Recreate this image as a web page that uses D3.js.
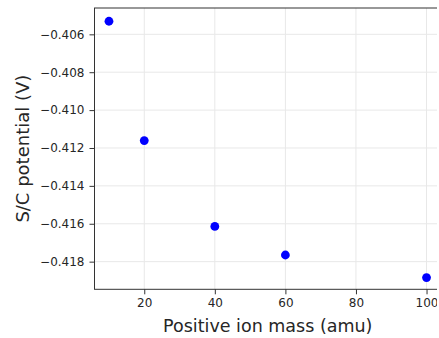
<!DOCTYPE html>
<html>
<head>
<meta charset="utf-8">
<script src="https://cdn.jsdelivr.net/npm/d3@7"></script>
<style>
  body { margin: 0; background: #fff; }
  text { font-family: "DejaVu Sans", sans-serif; }
</style>
</head>
<body>
<div id="chart"></div>
<script>
// ion mass (amu) vs spacecraft potential (V)
var mass = [10, 20, 40, 60, 100];
var potential = [-0.40531, -0.41161, -0.41614, -0.41765, -0.41884];
var xTicks = [20, 40, 60, 80, 100];
var yTicks = [-0.406, -0.408, -0.410, -0.412, -0.414, -0.416, -0.418];

// the original figure is cropped just before its right spine
var W = 437, H = 338;
var plotLeft = 94.5, plotRight = 441, plotTop = 8, plotBottom = 289.3;

var svg = d3.select("#chart")
  .append("svg")
    .attr("width", W)
    .attr("height", H);

var x = d3.scaleLinear()
  .domain([5.9, 104.1])
  .range([plotLeft, plotRight]);

var y = d3.scaleLinear()
  .domain([-0.41946, -0.40461])
  .range([plotBottom, plotTop]);

// grid
svg.append("g")
  .selectAll("line")
  .data(xTicks)
  .enter().append("line")
    .attr("x1", d => x(d)).attr("x2", d => x(d))
    .attr("y1", plotTop).attr("y2", plotBottom)
    .attr("stroke", "#e8e8e8")
    .attr("stroke-width", 1);
svg.append("g")
  .selectAll("line")
  .data(yTicks)
  .enter().append("line")
    .attr("x1", plotLeft).attr("x2", plotRight)
    .attr("y1", d => y(d)).attr("y2", d => y(d))
    .attr("stroke", "#e8e8e8")
    .attr("stroke-width", 1);

// axes
var xAxis = svg.append("g")
  .attr("transform", "translate(0," + plotBottom + ")")
  .call(d3.axisBottom(x).tickValues(xTicks).tickSize(5).tickSizeOuter(0).tickPadding(4));
var yAxis = svg.append("g")
  .attr("transform", "translate(" + plotLeft + ",0)")
  .call(d3.axisLeft(y).tickValues(yTicks).tickFormat(d3.format(".3f")).tickSize(5).tickSizeOuter(0).tickPadding(5));

[xAxis, yAxis].forEach(function(g) {
  g.select(".domain").remove();
  g.selectAll("line").attr("stroke", "#333");
  g.selectAll("text")
    .attr("fill", "#262626")
    .style("font-family", "DejaVu Sans")
    .style("font-size", "12px");
});

// frame
svg.append("rect")
  .attr("x", plotLeft).attr("y", plotTop)
  .attr("width", plotRight - plotLeft).attr("height", plotBottom - plotTop)
  .attr("fill", "none")
  .attr("stroke", "#333")
  .attr("stroke-width", 1);

// points
svg.append("g")
  .selectAll("circle")
  .data(mass)
  .enter().append("circle")
    .attr("cx", d => x(d))
    .attr("cy", (d, i) => y(potential[i]))
    .attr("r", 4.4)
    .attr("fill", "#0000ff");

// labels
svg.append("text")
  .attr("x", (plotLeft + plotRight) / 2)
  .attr("y", 332)
  .attr("text-anchor", "middle")
  .attr("fill", "#262626")
  .style("font-size", "17.5px")
  .text("Positive ion mass (amu)");

svg.append("text")
  .attr("transform", "translate(29," + ((plotTop + plotBottom) / 2) + ") rotate(-90)")
  .attr("text-anchor", "middle")
  .attr("fill", "#262626")
  .style("font-size", "18px")
  .text("S/C potential (V)");
</script>
</body>
</html>
